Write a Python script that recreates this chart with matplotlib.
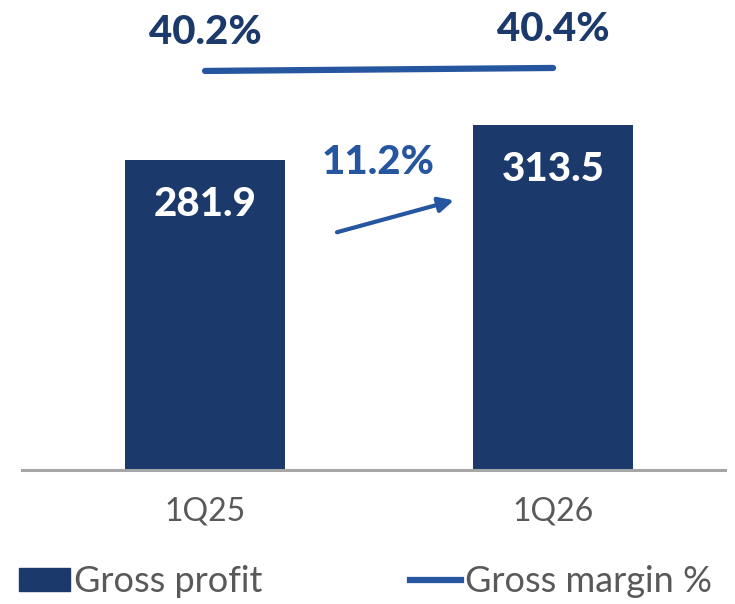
import matplotlib.pyplot as plt
from matplotlib.patches import Patch
from matplotlib.lines import Line2D

quarters = ['1Q25', '1Q26']
gross_profit = [281.9, 313.5]
gross_margin = [40.2, 40.4]
growth_label = '11.2%'

NAVY = '#1b3a6b'
BLUE = '#2656a0'
GREY_TXT = '#595959'

plt.rcParams['font.family'] = ['Lato', 'DejaVu Sans']

fig = plt.figure(figsize=(7.35, 6.04), dpi=100)
ax = fig.add_axes([22 / 735, 134 / 604, 703 / 735, 470 / 604])

x = list(range(len(quarters)))
ax.bar(x, gross_profit, width=0.46, color=NAVY, zorder=2)
ax.set_xlim(-0.526, 1.494)
ax.set_ylim(0, 427)

# value labels inside the bars
for xi, v in zip(x, gross_profit):
    ax.annotate(f'{v:.1f}', (xi, v), xytext=(0, -32), textcoords='offset points',
                ha='center', va='center', color='white', fontsize=29, fontweight='black')

ax.set_xticks(x)
ax.set_xticklabels(quarters, fontsize=23, color=GREY_TXT)
ax.tick_params(axis='x', length=0, pad=19)
ax.set_yticks([])
for s in ['top', 'left', 'right']:
    ax.spines[s].set_visible(False)
ax.spines['bottom'].set_color('#a6a6a6')
ax.spines['bottom'].set_linewidth(2.2)

# growth arrow
ax.annotate('', xy=(0.715, 245), xytext=(0.379, 216),
            arrowprops=dict(arrowstyle='-|>,head_length=0.9,head_width=0.45',
                            color=BLUE, lw=3, shrinkA=0, shrinkB=0))
ax.text(0.497, 279, growth_label, ha='center', va='center', color=BLUE,
        fontsize=29, fontweight='black')

# gross margin on a twin axis
ax2 = ax.twinx()
ax2.set_ylim(13.6, 44.93)
ax2.axis('off')
ax2.plot(x, gross_margin, color=BLUE, lw=4.5, solid_capstyle='round')
for xi, m in zip(x, gross_margin):
    ax2.annotate(f'{m:.1f}%', (xi, m), xytext=(0, 28), textcoords='offset points',
                 ha='center', va='center', color=NAVY, fontsize=29, fontweight='black')

leg1 = fig.legend(handles=[Patch(color=NAVY)], labels=['Gross profit'],
                  loc='center left', bbox_to_anchor=(5 / 735, 22 / 604),
                  frameon=False, fontsize=26, labelcolor=GREY_TXT,
                  handlelength=1.4, handleheight=0.62, handletextpad=0.1,
                  borderaxespad=0)
leg2 = fig.legend(handles=[Line2D([], [], color=BLUE, lw=4.5)], labels=['Gross margin %'],
                  loc='center left', bbox_to_anchor=(396 / 735, 22 / 604),
                  frameon=False, fontsize=26, labelcolor=GREY_TXT,
                  handlelength=1.4, handletextpad=0.1, borderaxespad=0)

fig.savefig('out.png', dpi=100)
